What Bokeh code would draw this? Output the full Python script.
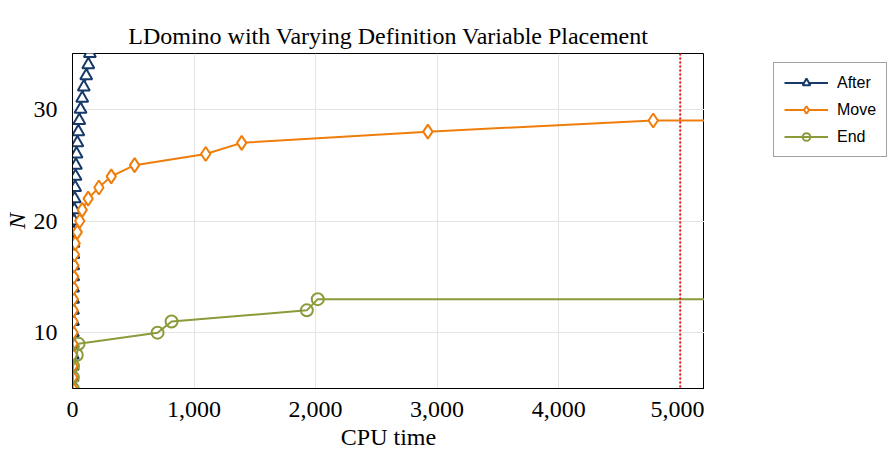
from bokeh.plotting import figure
from bokeh.layouts import row
from bokeh.models import Range1d, NumeralTickFormatter, FixedTicker, Legend, LegendItem, Span, Title
from bokeh.embed import file_html
from bokeh.resources import INLINE

title_text = "LDomino with Varying Definition Variable Placement"

after_n = list(range(5, 36))
after_t = [1, 1, 2, 2, 3, 3, 4, 4, 5, 5, 6, 6, 7, 8, 10, 12, 15, 18, 22, 25, 28, 33, 40, 48, 56, 66, 80, 93, 113, 130, 143]

move_n = list(range(5, 30)) + [29]
move_t = [2, 2, 3, 3, 4, 5, 5, 6, 7, 8, 10, 12, 16, 22, 39, 60, 80, 129, 217, 319, 511, 1096, 1392, 2924, 4778, 6000]

end_n = [5, 6, 7, 8, 9, 10, 11, 12, 13, 13]
end_t = [2, 3, 4, 35, 50, 700, 815, 1928, 2018, 6000]

series_names = ["After", "Move", "End"]
timeout = 5000
x_ticks = [0, 1000, 2000, 3000, 4000, 5000]
y_ticks = [10, 20, 30]

C_AFTER = "#173a6b"
C_MOVE = "#ef7d0b"
C_END = "#8c9a3a"

p = figure(width=704, height=454, output_backend="svg", toolbar_location=None,
           x_range=Range1d(0, 5200), y_range=Range1d(5, 35),
           min_border_left=72, min_border_right=0, min_border_top=53, min_border_bottom=66)
p.title.visible = False

# real title first, then a spacer between it and the frame
main_title = Title(text=title_text, align="center", vertical_align="top",
                   text_font="Liberation Serif", text_font_size="24px",
                   text_font_style="normal", text_color="black", standoff=5, offset=0)
p.add_layout(main_title, "above")
spacer = Title(text=".", text_font_size="12px", text_color=None, standoff=6, offset=0)
p.add_layout(spacer, "above")

p.outline_line_color = "black"
p.outline_line_alpha = 1
p.outline_line_width = 1

for ax in (p.xaxis[0], p.yaxis[0]):
    ax.major_label_text_font = "Liberation Serif"
    ax.major_label_text_font_size = "24px"
    ax.major_label_text_color = "black"
    ax.axis_label_text_font = "Liberation Serif"
    ax.axis_label_text_font_size = "24px"
    ax.axis_label_text_color = "black"
    ax.axis_label_text_font_style = "normal"
    ax.major_tick_line_color = None
    ax.minor_tick_line_color = None
    ax.axis_line_color = "black"

p.xaxis.ticker = FixedTicker(ticks=x_ticks)
p.yaxis.ticker = FixedTicker(ticks=y_ticks)
p.xaxis.formatter = NumeralTickFormatter(format="0,0")
p.xaxis.axis_label = "CPU time"
p.yaxis.axis_label = "N"
p.yaxis.axis_label_text_font_style = "italic"
p.xaxis.major_label_standoff = 7
p.yaxis.major_label_standoff = 9
p.xaxis.axis_label_standoff = 4
p.yaxis.axis_label_standoff = 1

p.xgrid.grid_line_color = "#e4e4e4"
p.ygrid.grid_line_color = "#e4e4e4"
p.xgrid.ticker = FixedTicker(ticks=x_ticks)
p.ygrid.ticker = FixedTicker(ticks=y_ticks)

styles = [
    dict(color=C_AFTER, marker="triangle", size=12, fill="white"),
    dict(color=C_MOVE, marker="diamond", size=14, fill="white"),
    dict(color=C_END, marker="circle", size=12, fill=None),
]
data = [(after_t, after_n), (move_t, move_n), (end_t, end_n)]

for (xs, ys), st in zip(data, styles):
    p.line(xs, ys, line_color=st["color"], line_width=2)
    p.scatter(xs, ys, marker=st["marker"], size=st["size"], line_color=st["color"],
              line_width=2, fill_color=st["fill"])

vline = Span(location=timeout, dimension="height", line_color="#ee1111", line_width=2, line_dash="2 2")
p.add_layout(vline)

# legend panel on the right (its placeholder renderers hold a single NaN point, so draw nothing)
lp = figure(width=185, height=454, output_backend="svg", toolbar_location=None,
            x_axis_type=None, y_axis_type=None, min_border=0,
            x_range=Range1d(0, 1), y_range=Range1d(0, 1))
lp.outline_line_color = None
lp.xgrid.visible = False
lp.ygrid.visible = False
lp.title.visible = False

nan = float("nan")
items = []
for name, st in zip(series_names, styles):
    lr = lp.line([nan], [nan], line_color=st["color"], line_width=2)
    sr = lp.scatter([nan], [nan], marker=st["marker"], size=st["size"] - 3, line_color=st["color"],
                    line_width=2, fill_color=st["fill"])
    items.append(LegendItem(label=name, renderers=[lr, sr]))

legend = Legend(items=items, location=(69, 231))
legend.label_text_font = "Liberation Sans"
legend.label_text_font_size = "16px"
legend.label_text_color = "black"
legend.border_line_color = "#444444"
legend.border_line_width = 1
legend.glyph_width = 44
legend.glyph_height = 19
legend.spacing = 8
legend.padding = 10
legend.label_standoff = 9
legend.margin = 0
legend.background_fill_alpha = 1
lp.add_layout(legend, "center")

layout = row(p, lp)
open("out.html", "w").write(file_html(layout, INLINE))
